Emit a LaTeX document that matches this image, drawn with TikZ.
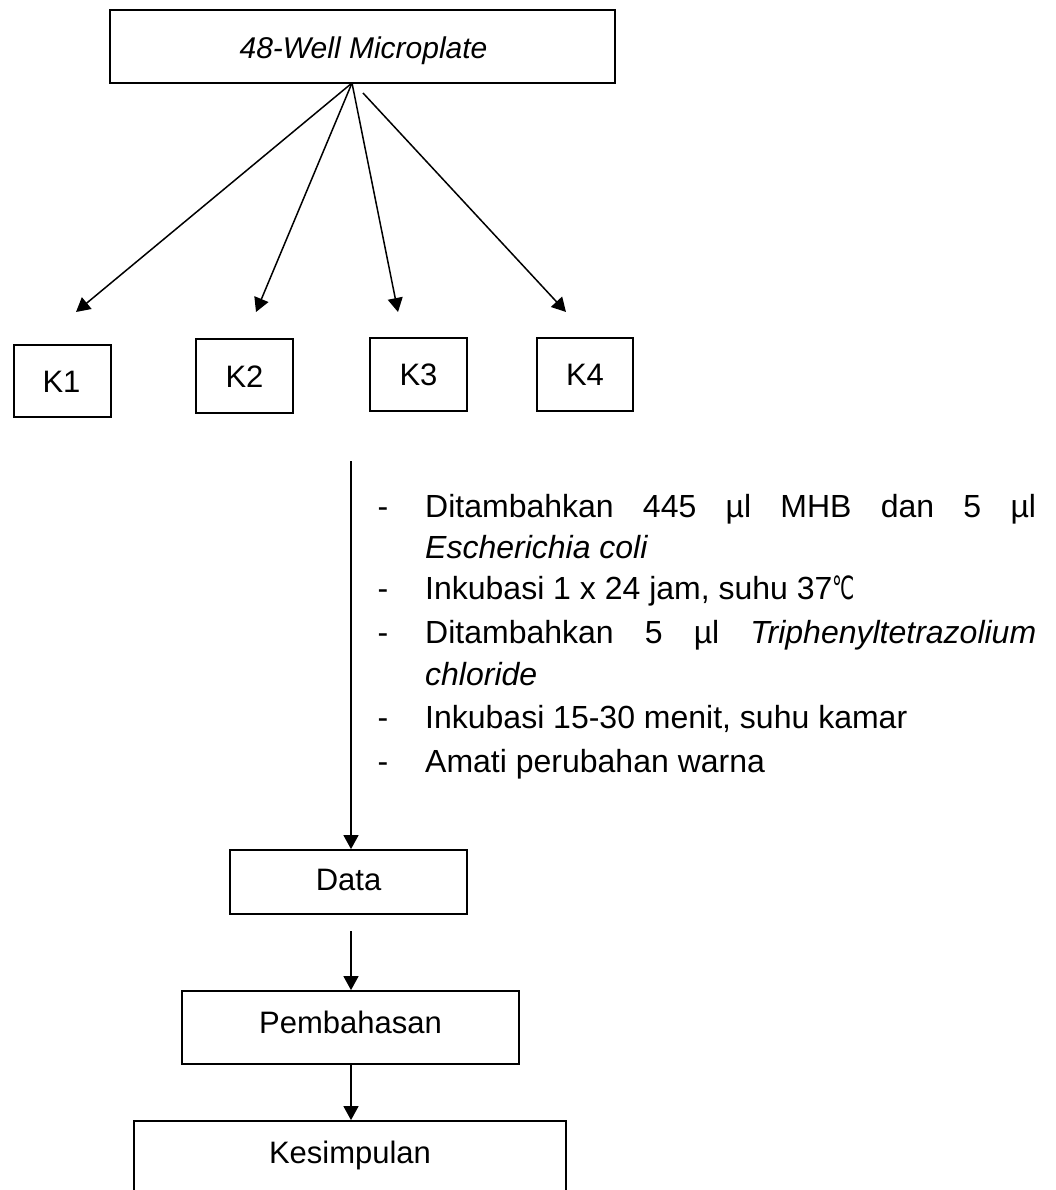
\documentclass[tikz,border=0pt]{standalone}
\usepackage{fontspec}
\setmainfont{Liberation Sans}
\newfontfamily\symfont{DejaVu Sans}
\usetikzlibrary{arrows.meta}
\begin{document}
\begin{tikzpicture}[x=1pt,y=-1pt,
  box/.style={draw,line width=1.8pt,inner sep=0pt},
  conn/.style={line width=1.5pt},
  arr/.style={conn,-{Triangle[length=14pt,width=15pt]}},
  txt/.style={inner sep=0pt,font=\fontsize{31}{37}\selectfont},
  lbl/.style={txt,anchor=base},
  item/.style={txt,anchor=base west,font=\fontsize{32}{38}\selectfont},
]
\useasboundingbox (0,0) rectangle (1056,1190);
\clip (0,0) rectangle (1056,1190);
\fill[white] (0,0) rectangle (1056,1190);

% boxes
\node[box,line width=2.1pt,minimum width=505pt,minimum height=73pt] (top) at (362.5,46.5) {};
\node[lbl,font=\fontsize{30}{36}\selectfont\itshape] (toplbl) at (363.5,59) {48-Well Microplate};

\node[box,line width=2pt,minimum width=97pt,minimum height=72pt] (k1) at (62.5,381) {};
\node[box,line width=2pt,minimum width=97pt,minimum height=74pt] (k2) at (244.5,376) {};
\node[box,line width=2pt,minimum width=97pt,minimum height=73pt] (k3) at (418.5,374.5) {};
\node[box,line width=2pt,minimum width=96pt,minimum height=73pt] (k4) at (585,374.5) {};
\node[lbl] (k1l) at (61.5,392) {K1};
\node[lbl] (k2l) at (244.5,387) {K2};
\node[lbl] (k3l) at (418.5,385.5) {K3};
\node[lbl] (k4l) at (585,385.5) {K4};

\node[box,minimum width=237pt,minimum height=64pt] (data) at (348.5,882) {};
\node[lbl] (datal) at (348.5,890) {Data};
\node[box,minimum width=337pt,minimum height=73pt] (pemb) at (350.5,1027.5) {};
\node[lbl] (pembl) at (350.5,1033) {Pembahasan};
\node[box,minimum width=432pt,minimum height=140pt] (kes) at (350,1191) {};
\node[lbl] (kesl) at (350,1163) {Kesimpulan};

% fan-out arrows
\coordinate (s0) at (352,83);
\coordinate (s4) at (363,93);
\coordinate (t1) at (76,312);
\coordinate (t2) at (256,312);
\coordinate (t3) at (398,312);
\coordinate (t4) at (566,312);
\draw[arr] (s0) -- (t1);
\draw[arr] (s0) -- (t2);
\draw[arr] (s0) -- (t3);
\draw[arr] (s4) -- (t4);

% main vertical connector
\coordinate (v0) at (351,461);
\draw[arr] (v0) -- (v0 |- data.north);
\coordinate (d0) at (351,931);
\draw[arr] (d0) -- (d0 |- pemb.north);
\draw[arr] (pemb.south -| d0) -- (d0 |- kes.north);

% procedure text
\node[item] (dash1) at (377.5,517) {-};
\node[item] (l1) at (425,517) {\hbox to 611pt{Ditambahkan\hfill 445\hfill µl\hfill MHB\hfill dan\hfill 5\hfill µl}};
\node[item] (l2) at (425,558) {\itshape Escherichia coli};
\node[item] (dash3) at (377.5,599) {-};
\node[item] (l3) at (425,599) {Inkubasi 1 x 24 jam, suhu 37\scalebox{0.62}[1]{\symfont ℃}};
\node[item] (dash4) at (377.5,643) {-};
\node[item] (l4) at (425,643) {\hbox to 611pt{Ditambahkan\hfill 5\hfill µl\hfill \textit{Triphenyltetrazolium}}};
\node[item] (l5) at (425,685) {\itshape chloride};
\node[item] (dash6) at (377.5,728) {-};
\node[item] (l6) at (425,728) {Inkubasi 15-30 menit, suhu kamar};
\node[item] (dash7) at (377.5,772) {-};
\node[item] (l7) at (425,772) {Amati perubahan warna};
\end{tikzpicture}
\end{document}
